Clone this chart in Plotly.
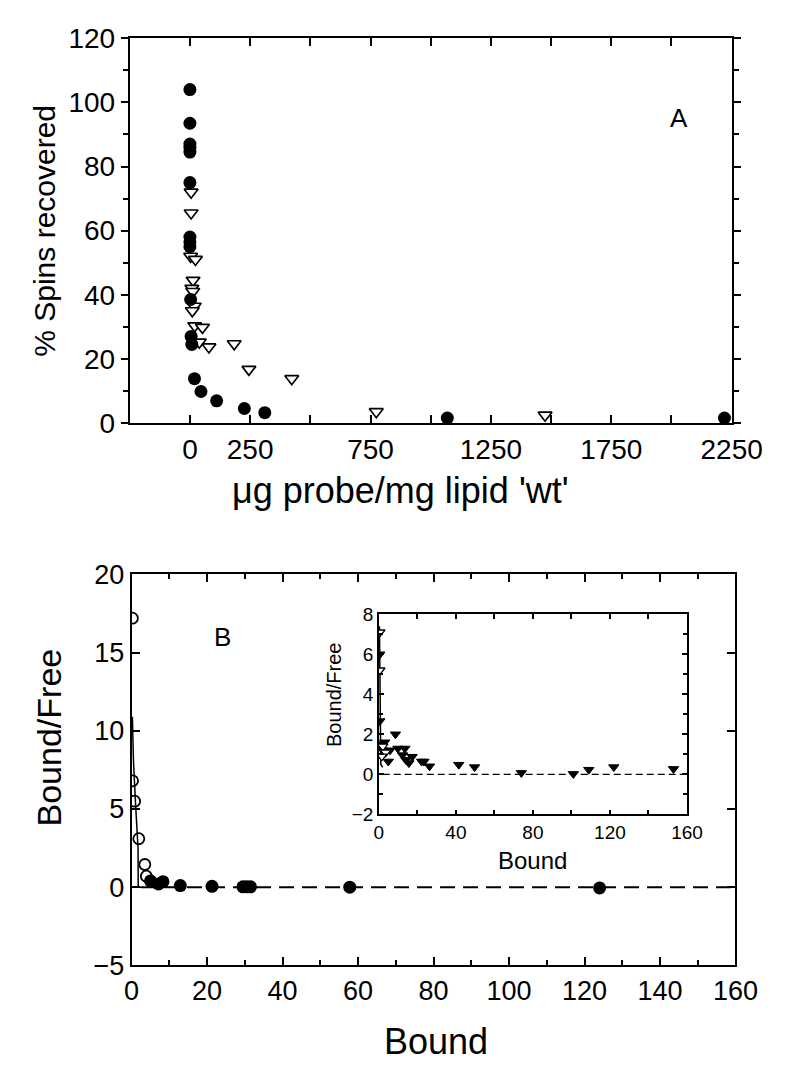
import plotly.graph_objects as go

W, H = 795, 1077


def px(x):
    return x / W


def py(y):
    return 1 - y / H


# ---------------- Panel A data ----------------
a_filled_x = [0, 0, 0, 0, 0, 0, 0, 0, 0, 3, 5, 8, 19, 46, 111, 226, 311, 1069, 2220]
a_filled_y = [104, 93.5, 87, 86, 84.5, 75, 58, 56.5, 55, 38.5, 27, 24.5, 13.8, 9.8, 6.9, 4.5, 3.2, 1.5, 1.5]
a_open_x = [5, 5, 3, 23, 13, 8, 12, 18, 10, 20, 52, 39, 79, 184, 245, 423, 774, 1475]
a_open_y = [72, 65.5, 52, 51, 44.5, 42, 41, 36.4, 35, 30.3, 29.8, 25.2, 23.7, 24.7, 16.7, 13.8, 3.5, 2.4]
a_tick_vals = [0, 250, 750, 1250, 1750, 2250]

# ---------------- Panel B data ----------------
b_open_x = [0.2, 0.25, 0.8, 1.9, 3.5, 3.9]
b_open_y = [17.2, 6.8, 5.5, 3.1, 1.45, 0.7]
b_filled_x = [5.0, 7.1, 8.3, 12.9, 21.3, 29.5, 30.5, 31.5, 57.8, 124]
b_filled_y = [0.4, 0.2, 0.35, 0.1, 0.05, 0.02, 0.02, 0.02, 0.0, -0.05]
b_fit_x = [0.2, 0.5, 1.0, 1.4, 1.7, 1.75, 2.5]
b_fit_y = [10.9, 8.0, 5.5, 4.0, 2.5, 0.0, 0.0]
b_base_x = [2.5, 160]
b_base_y = [0, 0]

# ---------------- Inset data ----------------
c_open_x = [0.5, 0.5, 2.0, 3.5, 1.5]
c_open_y = [7.1, 5.2, 1.4, 1.1, 0.9]
c_filled_x = [0.5, 0.5, 1.0, 2.0, 3.0, 8.6, 4.9, 5.8, 9.9, 13.5, 12.3, 14.0, 15.6, 17.3,
              22.2, 23.4, 26.3, 41.5, 49.7, 74, 101, 109, 122, 153]
c_filled_y = [6.0, 2.66, 1.5, 1.2, 1.6, 2.0, 0.64, 1.2, 1.29, 1.29, 0.96, 0.72, 0.56, 0.88,
              0.64, 0.64, 0.4, 0.48, 0.36, 0.07, 0.02, 0.23, 0.36, 0.27]
c_fit_x = [0.3, 0.5, 0.7, 1.0, 2.0]
c_fit_y = [7.4, 5.5, 2.5, 0.5, 0.35]
c_base_x = [2.0, 160]
c_base_y = [0, 0]

FONT = "Liberation Sans"
BLACK = "black"

fig = go.Figure()

# Panel A
fig.add_trace(go.Scatter(x=a_open_x, y=a_open_y, mode="markers", xaxis="x", yaxis="y",
                         marker=dict(symbol="triangle-down", size=12, color="white",
                                     line=dict(color=BLACK, width=1.7))))
fig.add_trace(go.Scatter(x=a_filled_x, y=a_filled_y, mode="markers", xaxis="x", yaxis="y",
                         marker=dict(symbol="circle", size=13, color=BLACK)))

# Panel B
fig.add_trace(go.Scatter(x=b_base_x, y=b_base_y, mode="lines", xaxis="x2", yaxis="y2",
                         line=dict(color=BLACK, width=2, dash="15px,8px")))
fig.add_trace(go.Scatter(x=b_fit_x, y=b_fit_y, mode="lines", xaxis="x2", yaxis="y2",
                         line=dict(color=BLACK, width=1.5)))
fig.add_trace(go.Scatter(x=b_open_x, y=b_open_y, mode="markers", xaxis="x2", yaxis="y2",
                         marker=dict(symbol="circle-open", size=11, color=BLACK,
                                     line=dict(color=BLACK, width=1.8))))
fig.add_trace(go.Scatter(x=b_filled_x, y=b_filled_y, mode="markers", xaxis="x2", yaxis="y2",
                         marker=dict(symbol="circle", size=13, color=BLACK)))

# Inset
fig.add_trace(go.Scatter(x=c_base_x, y=c_base_y, mode="lines", xaxis="x3", yaxis="y3",
                         line=dict(color=BLACK, width=1.3, dash="7px,4px")))
fig.add_trace(go.Scatter(x=c_fit_x, y=c_fit_y, mode="lines", xaxis="x3", yaxis="y3",
                         line=dict(color=BLACK, width=1.5)))
fig.add_trace(go.Scatter(x=c_filled_x, y=c_filled_y, mode="markers", xaxis="x3", yaxis="y3",
                         marker=dict(symbol="triangle-down", size=9, color=BLACK,
                                     line=dict(color=BLACK, width=1))))
fig.add_trace(go.Scatter(x=c_open_x, y=c_open_y, mode="markers", xaxis="x3", yaxis="y3",
                         marker=dict(symbol="triangle-down", size=9, color="white",
                                     line=dict(color=BLACK, width=1.3))))

axis_common = dict(showgrid=False, zeroline=False, showline=True, linecolor=BLACK,
                   linewidth=2, mirror="ticks", tickcolor=BLACK, tickwidth=1.5,
                   color=BLACK)

fig.update_layout(
    width=W, height=H,
    margin=dict(l=0, r=0, t=0, b=0),
    paper_bgcolor="white", plot_bgcolor="white",
    showlegend=False,
    font=dict(family=FONT, color=BLACK),
    xaxis=dict(axis_common, domain=[px(128), px(761)], range=[-250, 2250], anchor="y",
               tickmode="array", tickvals=a_tick_vals, ticks="inside", ticklen=8,
               minor=dict(dtick=250, tick0=0, ticks="inside", ticklen=8, tickcolor=BLACK),
               tickfont=dict(size=28)),
    yaxis=dict(axis_common, domain=[py(420), py(24)], range=[0, 120], anchor="x",
               dtick=20, ticks="outside", ticklen=7,
               minor=dict(dtick=10, ticks="outside", ticklen=5, tickcolor=BLACK),
               tickfont=dict(size=28)),
    xaxis2=dict(axis_common, domain=[px(130), px(765)], range=[0, 160], anchor="y2",
                dtick=20, ticks="inside", ticklen=8,
                minor=dict(dtick=10, ticks="inside", ticklen=5, tickcolor=BLACK),
                tickfont=dict(size=27)),
    yaxis2=dict(axis_common, domain=[py(978.5), py(576)], range=[-5, 20], anchor="x2",
                dtick=5, ticks="inside", ticklen=8, tickfont=dict(size=27)),
    xaxis3=dict(axis_common, domain=[px(390), px(714)], range=[0, 160], anchor="y3",
                linewidth=1.5, tickmode="array", tickvals=[0, 40, 80, 120, 160],
                ticks="inside", ticklen=5,
                minor=dict(dtick=20, ticks="inside", ticklen=5, tickcolor=BLACK),
                tickfont=dict(size=19)),
    yaxis3=dict(axis_common, domain=[py(823), py(617)], range=[-2, 8], anchor="x3",
                linewidth=1.5, dtick=2, ticks="inside", ticklen=5,
                minor=dict(dtick=1, ticks="inside", ticklen=4, tickcolor=BLACK),
                tickfont=dict(size=19)),
)

ann = [
    dict(text="% Spins recovered", x=px(38), y=py(222), textangle=-90, size=30),
    dict(text="\u03bcg probe/mg lipid 'wt'", x=px(413), y=py(490), textangle=0, size=36),
    dict(text="Bound/Free", x=px(43), y=py(744), textangle=-90, size=34),
    dict(text="Bound", x=px(450), y=py(1057), textangle=0, size=36),
    dict(text="Bound/Free", x=px(343), y=py(700), textangle=-90, size=20),
    dict(text="Bound", x=px(552), y=py(871), textangle=0, size=24),
]
for a in ann:
    fig.add_annotation(text=a["text"], x=a["x"], y=a["y"], xref="paper", yref="paper",
                       showarrow=False, textangle=a["textangle"],
                       xanchor="center", yanchor="middle",
                       font=dict(family=FONT, size=a["size"], color=BLACK))

# panel letters, placed in data coordinates
fig.add_annotation(text="A", x=2030, y=95, xref="x", yref="y", showarrow=False,
                   font=dict(family=FONT, size=26, color=BLACK))
fig.add_annotation(text="B", x=24, y=16, xref="x2", yref="y2", showarrow=False,
                   font=dict(family=FONT, size=26, color=BLACK))

fig.write_html("out.html", config={"displayModeBar": False},
               post_script="document.body.style.margin='0';")
